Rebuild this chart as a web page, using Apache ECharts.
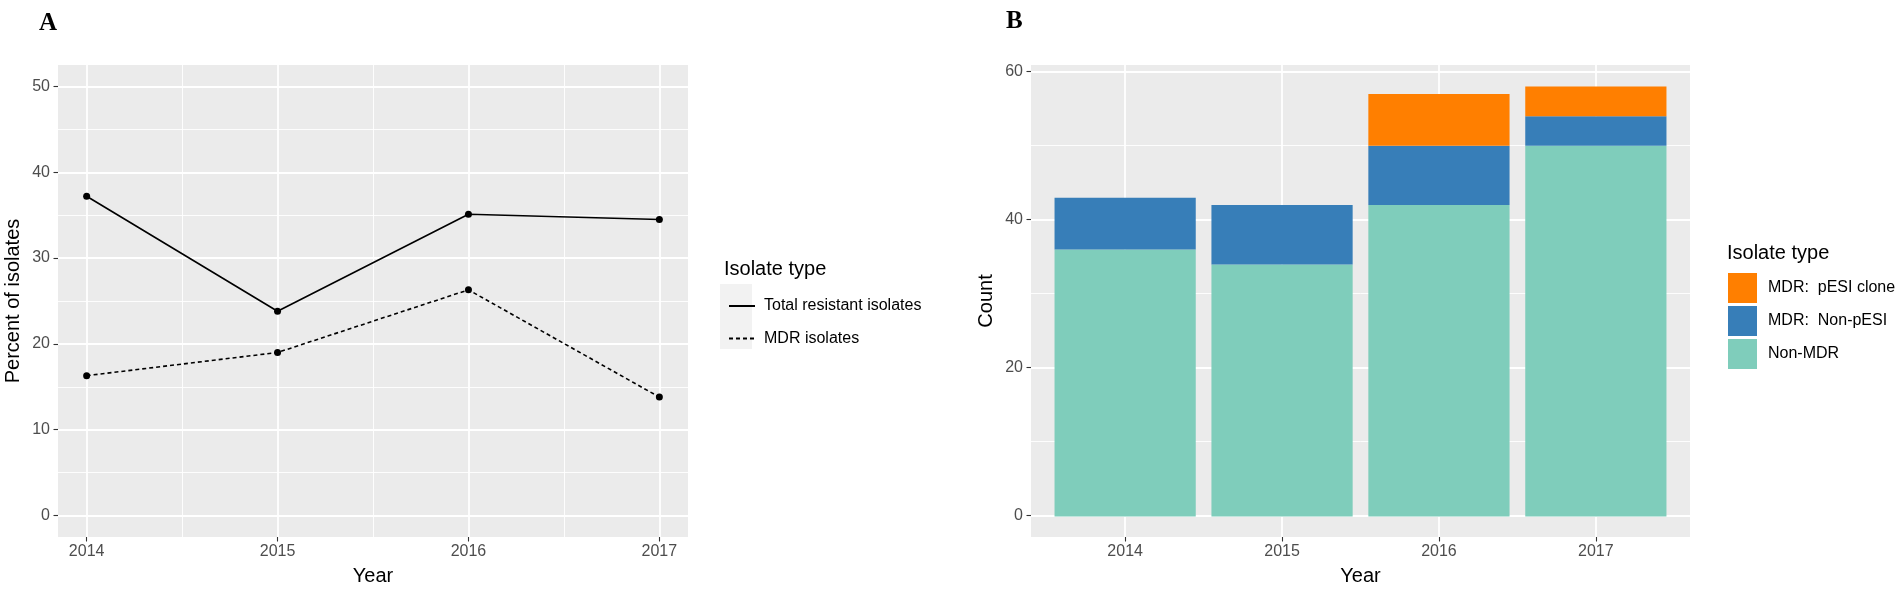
<!DOCTYPE html>
<html>
<head>
<meta charset="utf-8">
<script src="https://cdn.jsdelivr.net/npm/echarts@6.0.0/dist/echarts.min.js"></script>
<style>
  html, body { margin: 0; padding: 0; background: #fff; }
  #main { width: 1902px; height: 591px; }
</style>
</head>
<body>
<div id="main"></div>
<script>
// panel A: percent of isolates per year
var years = [2014, 2015, 2016, 2017];
var totalResistant = [37.2, 23.8, 35.1, 34.5];
var mdrIsolates = [16.3, 19.0, 26.3, 13.8];
var pctTicks = [0, 10, 20, 30, 40, 50];
var pctMinor = [5, 15, 25, 35, 45];
var yearMinor = [2014.5, 2015.5, 2016.5];

// panel B: stacked counts per year
var yearCats = ['2014', '2015', '2016', '2017'];
var barNames = ['MDR:  pESI clone', 'MDR:  Non-pESI', 'Non-MDR'];
var pesiClone = [0, 0, 7, 4];
var nonPesi = [7, 8, 8, 4];
var nonMdr = [36, 34, 42, 50];
var countTicks = [0, 20, 40, 60];
var countMinor = [10, 30, 50];
var yearIdx = [0, 1, 2, 3];

var FONT = '"Liberation Sans", Arial, sans-serif';
var gridA = { left: 58, top: 65, width: 630, height: 473 };
var gridB = { left: 1031, top: 65, width: 659, height: 473 };
// ggplot pads a discrete axis by 0.6 of a band on each side, echarts by 0.5
var band = gridB.width / 4.2;
var gridBars = { left: gridB.left + 0.1 * band, top: gridB.top, width: band * 4, height: gridB.height };

function majorAxis(grid, min, max, ticks, fmt, name, gap, isY) {
  return {
    type: 'value', gridIndex: grid, min: min, max: max,
    axisLine: { show: false, onZero: false },
    axisTick: { show: true, length: 4.5, customValues: ticks, lineStyle: { color: '#333', width: 1.1 } },
    axisLabel: {
      customValues: ticks, margin: isY ? 8 : 7, fontSize: 16, color: '#4d4d4d', fontFamily: FONT,
      formatter: fmt || function (v) { return String(v); }
    },
    splitLine: { show: true, lineStyle: { color: '#ffffff', width: 1.8 } },
    name: name, nameLocation: 'middle', nameGap: gap,
    nameTextStyle: { fontSize: 20, color: '#000', fontFamily: FONT }
  };
}

function minorAxis(grid, min, max, ticks) {
  return {
    type: 'value', gridIndex: grid, min: min, max: max,
    axisLine: { show: false, onZero: false },
    axisTick: { show: false, customValues: ticks },
    axisLabel: { show: false, customValues: ticks },
    splitLine: { show: true, lineStyle: { color: '#ffffff', width: 0.9 } }
  };
}

function pairs(xs, ys) {
  return xs.map(function (x, i) { return [x, ys[i]]; });
}

var myChart = echarts.init(document.getElementById('main'), null, { renderer: 'canvas' });

var option = {
  animation: false,
  backgroundColor: '#ffffff',
  title: [
    { text: 'A', left: 34, top: 6, textStyle: { fontFamily: '"Liberation Serif", serif', fontWeight: 'bold', fontSize: 25, color: '#000' } },
    { text: 'B', left: 1001, top: 4, textStyle: { fontFamily: '"Liberation Serif", serif', fontWeight: 'bold', fontSize: 25, color: '#000' } },
    { text: 'Isolate type', left: 719, top: 254, textStyle: { fontFamily: FONT, fontWeight: 'normal', fontSize: 20, color: '#000' } },
    { text: 'Isolate type', left: 1722, top: 238, textStyle: { fontFamily: FONT, fontWeight: 'normal', fontSize: 20, color: '#000' } }
  ],
  graphic: [
    { type: 'rect', left: 720, top: 284, shape: { width: 32, height: 65 }, style: { fill: '#f2f2f2' }, z: 0 }
  ],
  legend: [
    {
      data: ['Total resistant isolates', 'MDR isolates'],
      orient: 'vertical', left: 723, top: 291,
      itemWidth: 26, itemHeight: 20, itemGap: 12.5,
      itemStyle: { opacity: 0 },
      textStyle: { fontSize: 16, color: '#000', fontFamily: FONT, lineHeight: 20, padding: [0, 0, 0, 4] },
      selectedMode: false
    },
    {
      data: barNames,
      orient: 'vertical', left: 1723, top: 268,
      itemWidth: 29, itemHeight: 30, itemGap: 3, icon: 'rect',
      textStyle: { fontSize: 16, color: '#000', fontFamily: FONT, lineHeight: 20, padding: [0, 0, 0, 6] },
      selectedMode: false
    }
  ],
  grid: [
    { left: gridA.left, top: gridA.top, width: gridA.width, height: gridA.height, show: true, backgroundColor: '#ebebeb', borderWidth: 0 },
    { left: gridB.left, top: gridB.top, width: gridB.width, height: gridB.height, show: true, backgroundColor: '#ebebeb', borderWidth: 0 },
    { left: gridBars.left, top: gridBars.top, width: gridBars.width, height: gridBars.height, show: false }
  ],
  xAxis: [
    majorAxis(0, 2013.85, 2017.15, years, null, 'Year', 29, false),
    minorAxis(0, 2013.85, 2017.15, yearMinor),
    majorAxis(1, -0.6, 3.6, yearIdx, function (v) { return yearCats[Math.round(v)]; }, 'Year', 29, false),
    {
      type: 'category', gridIndex: 2, data: yearCats, boundaryGap: true,
      axisLine: { show: false, onZero: false }, axisTick: { show: false },
      axisLabel: { show: false }, splitLine: { show: false }
    }
  ],
  yAxis: [
    majorAxis(0, -2.5, 52.5, pctTicks, null, 'Percent of isolates', 35, true),
    minorAxis(0, -2.5, 52.5, pctMinor),
    majorAxis(1, -2.9, 60.9, countTicks, null, 'Count', 35, true),
    minorAxis(1, -2.9, 60.9, countMinor),
    {
      type: 'value', gridIndex: 2, min: -2.9, max: 60.9,
      axisLine: { show: false, onZero: false }, axisTick: { show: false },
      axisLabel: { show: false }, splitLine: { show: false }
    }
  ],
  series: [
    {
      name: 'Total resistant isolates', type: 'line', xAxisIndex: 0, yAxisIndex: 0,
      data: pairs(years, totalResistant),
      symbol: 'circle', symbolSize: 7, showSymbol: true,
      itemStyle: { color: '#000' },
      lineStyle: { color: '#000', width: 1.6, type: 'solid' }, z: 5
    },
    {
      name: 'MDR isolates', type: 'line', xAxisIndex: 0, yAxisIndex: 0,
      data: pairs(years, mdrIsolates),
      symbol: 'circle', symbolSize: 7, showSymbol: true,
      itemStyle: { color: '#000' },
      lineStyle: { color: '#000', width: 1.6, type: [4, 3] }, z: 5
    },
    {
      name: barNames[2], type: 'bar', xAxisIndex: 3, yAxisIndex: 4, stack: 'count',
      barWidth: '90%', data: nonMdr, itemStyle: { color: '#7fcdbb' }
    },
    {
      name: barNames[1], type: 'bar', xAxisIndex: 3, yAxisIndex: 4, stack: 'count',
      barWidth: '90%', data: nonPesi, itemStyle: { color: '#377eb8' }
    },
    {
      name: barNames[0], type: 'bar', xAxisIndex: 3, yAxisIndex: 4, stack: 'count',
      barWidth: '90%', data: pesiClone, itemStyle: { color: '#ff7f00' }
    }
  ]
};

myChart.setOption(option);
</script>
</body>
</html>
